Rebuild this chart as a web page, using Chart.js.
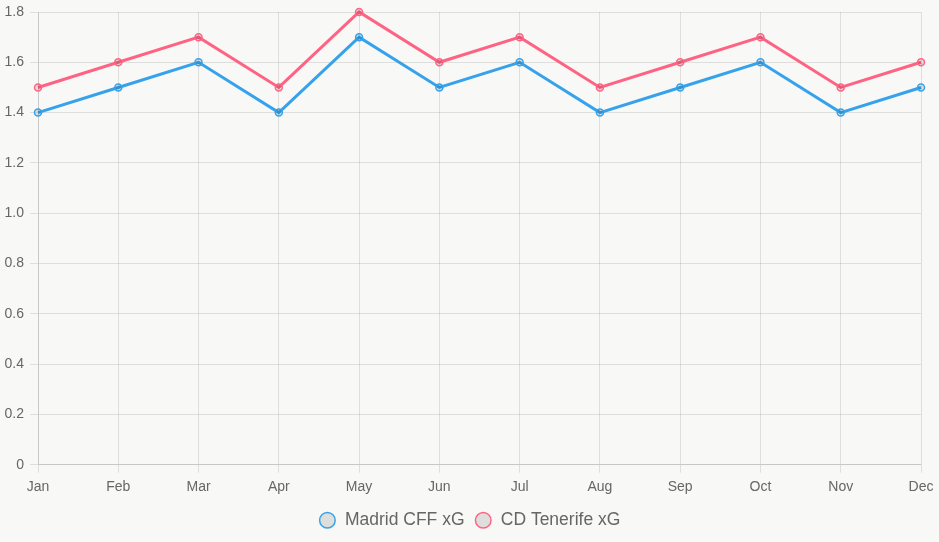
<!DOCTYPE html>
<html>
<head>
<meta charset="utf-8">
<script src="https://cdn.jsdelivr.net/npm/chart.js@4.4.0/dist/chart.umd.min.js"></script>
<style>
  html, body { margin: 0; padding: 0; background: #f8f8f6; }
  #wrap { width: 939px; height: 542px; }
</style>
</head>
<body>
<div id="wrap"><canvas id="xgChart"></canvas></div>
<script>
const months = ['Jan', 'Feb', 'Mar', 'Apr', 'May', 'Jun', 'Jul', 'Aug', 'Sep', 'Oct', 'Nov', 'Dec'];
const madridXg = [1.4, 1.5, 1.6, 1.4, 1.7, 1.5, 1.6, 1.4, 1.5, 1.6, 1.4, 1.5];
const tenerifeXg = [1.5, 1.6, 1.7, 1.5, 1.8, 1.6, 1.7, 1.5, 1.6, 1.7, 1.5, 1.6];

Chart.defaults.font.family = '"Liberation Sans", Arial, sans-serif';
Chart.defaults.color = '#666';

const ctx = document.getElementById('xgChart').getContext('2d');
new Chart(ctx, {
    type: 'line',
    data: {
        labels: months,
        datasets: [
            {
                label: 'Madrid CFF xG',
                data: madridXg,
                borderColor: 'rgb(54, 162, 235)',
                backgroundColor: 'rgba(0, 0, 0, 0.1)',
                borderWidth: 3,
                pointRadius: 3.5,
                pointBorderWidth: 1.5,
                tension: 0
            },
            {
                label: 'CD Tenerife xG',
                data: tenerifeXg,
                borderColor: 'rgb(255, 99, 132)',
                backgroundColor: 'rgba(0, 0, 0, 0.1)',
                borderWidth: 3,
                pointRadius: 3.5,
                pointBorderWidth: 1.5,
                tension: 0
            }
        ]
    },
    options: {
        responsive: true,
        maintainAspectRatio: false,
        animation: false,
        layout: { padding: { bottom: 3 } },
        plugins: {
            legend: {
                position: 'bottom',
                labels: {
                    usePointStyle: true,
                    boxWidth: 18,
                    boxHeight: 11,
                    padding: 10,
                    font: { size: 17.5 },
                    generateLabels: (chart) => {
                        const items = Chart.defaults.plugins.legend.labels.generateLabels(chart);
                        items.forEach(i => { i.lineWidth = 1.5; });
                        return items;
                    }
                }
            }
        },
        scales: {
            x: {
                ticks: { font: { size: 14 }, padding: 6 },
                afterFit: (scale) => { scale.paddingRight = 18; }
            },
            y: {
                beginAtZero: true,
                ticks: { font: { size: 14 }, padding: 6 },
                afterFit: (scale) => { scale.width = 38; scale.paddingTop = 12; }
            }
        }
    }
});
</script>
</body>
</html>
